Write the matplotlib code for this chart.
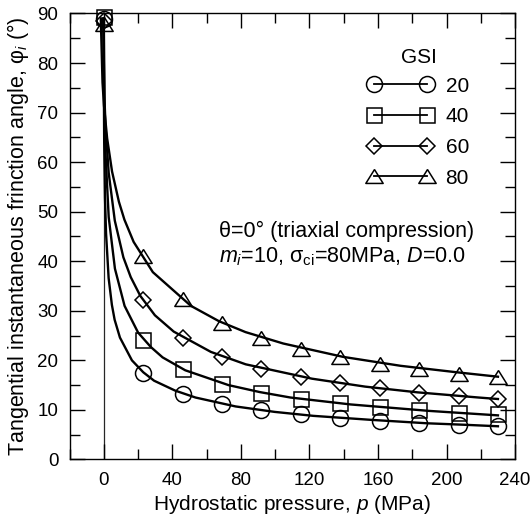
import matplotlib
matplotlib.use("Agg")
import matplotlib.pyplot as plt
from matplotlib.lines import Line2D
from matplotlib.ticker import MultipleLocator

plt.rcParams['font.family'] = ['Liberation Sans', 'DejaVu Sans']
plt.rcParams['mathtext.fontset'] = 'custom'
plt.rcParams['mathtext.rm'] = 'Liberation Sans'
plt.rcParams['mathtext.it'] = 'Liberation Sans:italic'
plt.rcParams['font.size'] = 15

# GSI levels shown in the legend
gsi_labels = ['20', '40', '60', '80']

# smooth curves (hydrostatic pressure p in MPa, friction angle in degrees)
p20 = [-0.02, 0.08, 0.21, 0.67, 1.3, 2.8, 4.7, 6.3, 9.4, 16.4, 23, 29.3, 41.6, 53.5, 76.9, 99.7, 122.3, 155.7, 188.7, 210.6, 230]
f20 = [89.0, 71.3, 64.0, 52.8, 45.6, 36.6, 31.2, 28.2, 24.6, 20.0, 17.6, 15.9, 13.9, 12.5, 10.7, 9.6, 8.8, 8.0, 7.3, 7.0, 6.7]

p40 = [-0.09, 0.42, 0.88, 2.84, 6.48, 12.1, 20, 27.4, 34.3, 47.5, 72.8, 91.0, 108.9, 144.1, 189.9, 230]
f40 = [89.0, 68.9, 62.4, 48.9, 38.5, 31.0, 25.6, 22.7, 20.6, 18.0, 15.0, 13.6, 12.5, 11.1, 9.8, 8.9]

p60 = [-0.39, 0.30, 1.07, 2.85, 6.4, 11.4, 15.7, 21.3, 29.8, 40.8, 62.5, 82.8, 121.5, 152.5, 182.9, 218.7, 230]
f60 = [89.0, 73.5, 66.7, 57.8, 48.2, 40.8, 36.8, 33.0, 29.1, 25.8, 21.7, 19.2, 16.3, 14.7, 13.55, 12.5, 12.2]

p80 = [-1.77, -0.77, 0.06, 1.93, 4.8, 8.8, 12.0, 17.4, 28.6, 50.8, 67.2, 82.7, 104.7, 139.7, 173.2, 205.8, 230]
f80 = [89.0, 76.1, 71.5, 64.8, 58.1, 52.0, 48.4, 43.9, 37.8, 31.0, 27.9, 25.7, 23.4, 20.7, 18.9, 17.6, 16.7]

# numerical points (markers)
pts_p = [0, 23, 46, 69, 92, 115, 138, 161, 184, 207, 230]
pts20 = [88.8, 17.4, 13.2, 11.1, 9.9, 9.1, 8.3, 7.8, 7.4, 7.0, 6.7]
pts40 = [89.3, 24.2, 18.2, 15.3, 13.4, 12.3, 11.3, 10.6, 9.9, 9.4, 9.1]
pts60 = [88.5, 32.2, 24.6, 20.7, 18.3, 16.6, 15.4, 14.4, 13.5, 12.8, 12.3]
pts80 = [87.8, 41.0, 32.3, 27.6, 24.6, 22.3, 20.7, 19.3, 18.3, 17.3, 16.6]

tri = [(0, 0.8), (-1, -0.8), (1, -0.8), (0, 0.8)]
styles = [('o', 11.5), ('s', 10.8), ('D', 8.4), (tri, 12.5)]

curves = [(p20, f20), (p40, f40), (p60, f60), (p80, f80)]
points = [pts20, pts40, pts60, pts80]

fig = plt.figure(figsize=(5.31, 5.18), dpi=100)
ax = fig.add_axes([0.131, 0.113, 0.839, 0.861])

ax.axvline(0, color='0.15', lw=0.9, zorder=1)

for (px, py), pts, (mk, ms) in zip(curves, points, styles):
    ax.plot(px, py, color='black', lw=1.7, zorder=2)
    ax.plot(pts_p, pts, ls='none', marker=mk, ms=ms, mfc='none',
            mec='black', mew=1.1, zorder=3, clip_on=False)

ax.set_xlim(-20, 240)
ax.set_ylim(0, 90)
ax.xaxis.set_major_locator(MultipleLocator(40))
ax.xaxis.set_minor_locator(MultipleLocator(20))
ax.yaxis.set_major_locator(MultipleLocator(10))
ax.yaxis.set_minor_locator(MultipleLocator(5))
ax.set_xticks([0, 40, 80, 120, 160, 200, 240])

ax.tick_params(which='both', direction='in', top=True, right=True, width=1.0,
               labelsize=13.5)
ax.tick_params(which='major', length=11)
ax.tick_params(which='minor', length=7.5)
ax.tick_params(axis='x', pad=9)
ax.tick_params(axis='y', pad=8)
for sp in ax.spines.values():
    sp.set_linewidth(1.0)

ax.set_xlabel('Hydrostatic pressure, $p$ (MPa)', fontsize=15, labelpad=3)
ax.set_ylabel('Tangential instantaneous frinction angle, $\\mathrm{φ}_i$ (°)',
              fontsize=15.5, labelpad=5)

handles = [Line2D([], [], color='black', lw=1.3, marker=mk, ms=ms, mfc='none',
                  mec='black', mew=1.1) for mk, ms in styles]
ax.legend(handles, gsi_labels, numpoints=2, frameon=False,
          handlelength=3.15, handletextpad=0.6, labelspacing=0.56,
          loc='upper left', bbox_to_anchor=(0.650, 0.877), borderaxespad=0,
          fontsize=15)
ax.text(0.785, 0.902, 'GSI', transform=ax.transAxes, fontsize=15,
        ha='center', va='center')

ax.text(0.335, 0.4987, 'θ=0° (triaxial compression)', transform=ax.transAxes,
        fontsize=15.5, va='baseline', ha='left')
ax.text(0.335, 0.4426, '$m_i$=10, $\\mathrm{σ_{ci}}$=80MPa, $D$=0.0',
        transform=ax.transAxes, fontsize=15.5, va='baseline', ha='left')

fig.savefig('out.png', dpi=100)
